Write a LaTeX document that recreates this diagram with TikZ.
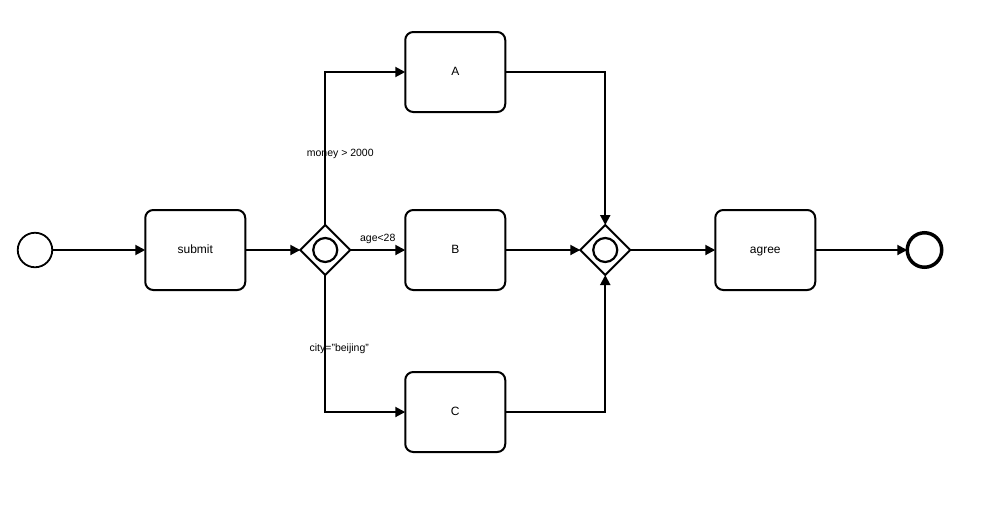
\documentclass[tikz,border=0pt]{standalone}
\usepackage{fontspec}
\setmainfont{Liberation Sans}
\usetikzlibrary{arrows.meta,positioning,shapes.geometric}

\begin{document}
\begin{tikzpicture}[x=1pt,y=-1pt,->,>={Triangle[length=10pt,width=10pt]},line width=2pt,
	font=\fontsize{12}{14}\selectfont]
	\tikzstyle{every node}=[outer sep=0pt]
	\tikzstyle{task}=[draw,rounded corners=8pt,minimum width=100pt,minimum height=80pt,line width=2pt,
		text height=1.6ex,text depth=0.25ex]
	\tikzstyle{event}=[draw,circle,minimum size=34.5pt,inner sep=0pt,line width=1.8pt]
	\tikzstyle{gateway}=[draw,diamond,minimum size=50pt,inner sep=0pt,line width=1.8pt,
		path picture={\draw[-,line width=2.2pt] (path picture bounding box.center) circle (12pt);}]
	\tikzstyle{cond}=[font=\fontsize{10.5}{12}\selectfont,inner sep=1pt]

	\useasboundingbox (0,0) rectangle (990,507);

	\node[event] (start) at (35,250) {};
	\node[task] (submit) [right=93pt of start] {submit};
	\node[gateway] (split) [right=55pt of submit] {};
	\node[task] (B) [right=55pt of split] {B};
	\node[task] (A) [above=98pt of B] {A};
	\node[task] (C) [below=82pt of B] {C};
	\node[gateway] (join) [right=75pt of B] {};
	\node[task] (agree) [right=85pt of join] {agree};
	\node[event,minimum size=34.5pt,line width=3.5pt] (end) [right=92pt of agree] {};

	\path
	(start) edge (submit)
	(submit) edge (split)
	(split) edge node[cond,above=5pt] {age<28} (B)
	(B) edge (join)
	(join) edge (agree)
	(agree) edge (end)
	;
	\draw (split) |- node[cond,pos=0.232,xshift=15pt] {money > 2000} (A);
	\draw (split) |- node[cond,pos=0.27,xshift=14pt] {city="beijing"} (C);
	\draw (A) -| (join);
	\draw (C) -| (join);
\end{tikzpicture}
\end{document}
